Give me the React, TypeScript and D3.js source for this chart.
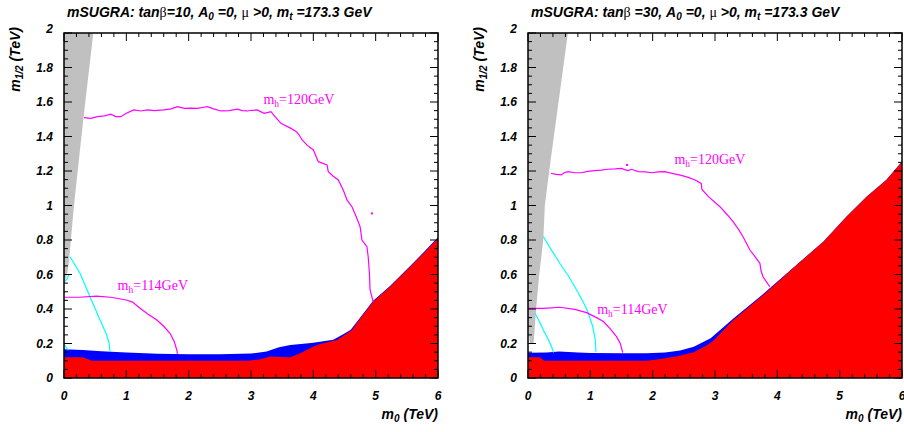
import React from "react";
import * as d3 from "d3";

type P = [number, number];

// ---------- axis ticks ----------
const M0_TICKS = [0, 1, 2, 3, 4, 5, 6];
const M0_LABELS = ["0", "1", "2", "3", "4", "5", "6"];
const M12_TICKS = [0, 0.2, 0.4, 0.6, 0.8, 1, 1.2, 1.4, 1.6, 1.8, 2];
const M12_LABELS = ["0", "0.2", "0.4", "0.6", "0.8", "1", "1.2", "1.4", "1.6", "1.8", "2"];

// ---------- tanβ = 10 ----------
const grey10: P[] = [[0, 2], [0.47, 2], [0.31, 1.5], [0.16, 1.0], [0.11, 0.8], [0.08, 0.68], [0.05, 0.6], [0.0, 0.55]];
const blueTop10: P[] = [[0, 0.166], [0.3, 0.162], [0.6, 0.155], [1.0, 0.148], [1.5, 0.14], [2.0, 0.137], [2.5, 0.137], [3.0, 0.142], [3.25, 0.153], [3.45, 0.178], [3.63, 0.191], [3.8, 0.197], [4.0, 0.205], [4.32, 0.222], [4.48, 0.253], [4.6, 0.28], [4.7, 0.326], [4.96, 0.448], [5.23, 0.533], [5.61, 0.669], [5.82, 0.748], [6.0, 0.816]];
const redTop10: P[] = [[0, 0.12], [0.3, 0.12], [0.45, 0.1], [1.0, 0.1], [2.0, 0.1], [2.5, 0.1], [2.95, 0.1], [3.15, 0.108], [3.31, 0.124], [3.5, 0.122], [3.63, 0.12], [3.79, 0.143], [4.0, 0.182], [4.11, 0.197], [4.38, 0.22], [4.54, 0.259], [4.62, 0.278], [4.7, 0.32], [4.96, 0.442], [5.23, 0.529], [5.61, 0.665], [5.82, 0.742], [6.0, 0.81]];
const cyan10: P[][] = [
  [[0.096, 0.703], [0.257, 0.607], [0.417, 0.471], [0.578, 0.336], [0.685, 0.249], [0.725, 0.2], [0.738, 0.152]],
  [[0.02, 0.56], [0.05, 0.575], [0.08, 0.6]],
  [[0.016, 0.19], [0.04, 0.175], [0.07, 0.162]],
];
const mh114_10: P[] = [[0, 0.468], [0.25, 0.468], [0.52, 0.475], [0.75, 0.468], [1.0, 0.452], [1.1, 0.44], [1.22, 0.404], [1.35, 0.37], [1.49, 0.336], [1.6, 0.3], [1.7, 0.259], [1.77, 0.21], [1.81, 0.162], [1.82, 0.14]];
const mh120_10: P[] = [[0.32, 1.509], [0.43, 1.505], [0.535, 1.515], [0.65, 1.52], [0.75, 1.529], [0.83, 1.515], [0.91, 1.515], [1.0, 1.535], [1.12, 1.554], [1.23, 1.548], [1.34, 1.554], [1.45, 1.55], [1.6, 1.554], [1.72, 1.56], [1.82, 1.573], [1.93, 1.563], [2.03, 1.565], [2.14, 1.563], [2.22, 1.568], [2.3, 1.573], [2.4, 1.56], [2.52, 1.548], [2.65, 1.55], [2.78, 1.559], [2.86, 1.55], [2.94, 1.548], [3.02, 1.552], [3.1, 1.554], [3.21, 1.534], [3.32, 1.544], [3.4, 1.51], [3.48, 1.476], [3.64, 1.447], [3.73, 1.428], [3.77, 1.41], [3.82, 1.38], [3.9, 1.35], [4.0, 1.322], [4.08, 1.254], [4.22, 1.235], [4.24, 1.196], [4.32, 1.17], [4.4, 1.148], [4.48, 1.09], [4.54, 1.032], [4.62, 0.993], [4.7, 0.925], [4.75, 0.877], [4.78, 0.8], [4.86, 0.761], [4.88, 0.703], [4.9, 0.606], [4.91, 0.51], [4.96, 0.442]];
const dots10: P[] = [[4.94, 0.954]];

// ---------- tanβ = 30 ----------
const grey30: P[] = [[0, 2], [0.64, 2], [0.34, 1.2], [0.27, 1.0], [0.245, 0.8], [0.18, 0.6], [0.13, 0.4], [0.09, 0.2], [0.03, 0.2], [0, 0.3]];
const blueTop30: P[] = [[0, 0.147], [0.3, 0.148], [0.5, 0.153], [0.8, 0.148], [1.0, 0.145], [1.5, 0.143], [1.9, 0.144], [2.2, 0.148], [2.44, 0.16], [2.66, 0.181], [2.93, 0.23], [3.29, 0.343], [3.72, 0.471], [3.91, 0.53], [4.31, 0.657], [4.74, 0.791], [5.11, 0.936], [5.43, 1.051], [5.75, 1.149], [6.0, 1.255]];
const redTop30: P[] = [[0, 0.12], [0.19, 0.12], [0.26, 0.1], [1.0, 0.1], [1.9, 0.1], [2.1, 0.108], [2.39, 0.126], [2.66, 0.15], [2.87, 0.19], [2.97, 0.215], [3.29, 0.335], [3.72, 0.465], [3.91, 0.525], [4.31, 0.655], [4.74, 0.79], [5.11, 0.935], [5.43, 1.05], [5.75, 1.148], [6.0, 1.254]];
const cyan30: P[][] = [
  [[0.245, 0.82], [0.38, 0.74], [0.51, 0.665], [0.65, 0.59], [0.78, 0.51], [0.88, 0.445], [0.96, 0.384], [1.04, 0.297], [1.08, 0.22], [1.09, 0.152]],
  [[0.11, 0.375], [0.18, 0.33], [0.245, 0.278], [0.33, 0.22], [0.38, 0.18], [0.41, 0.147]],
];
const mh114_30: P[] = [[0, 0.404], [0.25, 0.404], [0.51, 0.41], [0.75, 0.398], [0.94, 0.379], [1.1, 0.35], [1.21, 0.327], [1.32, 0.285], [1.42, 0.24], [1.48, 0.2], [1.52, 0.147]];
const mh120_30: P[] = [[0.37, 1.187], [0.45, 1.18], [0.535, 1.177], [0.58, 1.19], [0.64, 1.196], [0.75, 1.19], [0.855, 1.19], [0.96, 1.198], [1.07, 1.202], [1.18, 1.205], [1.28, 1.21], [1.4, 1.212], [1.5, 1.215], [1.55, 1.208], [1.61, 1.202], [1.66, 1.21], [1.77, 1.196], [1.88, 1.195], [1.98, 1.19], [2.09, 1.195], [2.19, 1.196], [2.35, 1.183], [2.46, 1.175], [2.57, 1.163], [2.68, 1.148], [2.78, 1.128], [2.79, 1.093], [2.9, 1.05], [3.08, 0.993], [3.2, 0.945], [3.29, 0.906], [3.38, 0.86], [3.45, 0.819], [3.56, 0.742], [3.63, 0.71], [3.72, 0.665], [3.74, 0.62], [3.77, 0.587], [3.82, 0.56], [3.88, 0.529]];
const dots30: P[] = [[1.59, 1.235]];

const SANS = "'Liberation Sans', Arial, Helvetica, sans-serif";
const SERIF = "'Liberation Serif', 'Times New Roman', serif";
const MAG = "#ff00ff";
const CYAN = "#00ffff";

interface PanelProps {
  x0: number;
  tanb: string;
  tanSpace: boolean;
  grey: P[];
  blueTop: P[];
  redTop: P[];
  cyan: P[][];
  mh114: P[];
  mh120: P[];
  dots: P[];
  lab114: P;
  lab120: P;
  id: string;
}

function Panel(p: PanelProps) {
  const X0 = p.x0, X1 = p.x0 + 374, Y0 = 378, Y1 = 33;
  const x = d3.scaleLinear().domain([0, 6]).range([X0, X1]);
  const y = d3.scaleLinear().domain([0, 2]).range([Y0, Y1]);
  const area = d3.area<P>().x(d => x(d[0])).y0(y(0)).y1(d => y(d[1]));
  const line = d3.line<P>().x(d => x(d[0])).y(d => y(d[1]));
  const xMinor = d3.range(0, 6.0001, 0.2);
  const yMinor = d3.range(0, 2.0001, 0.05);
  const isMajorY = (v: number) => Math.abs(v / 0.2 - Math.round(v / 0.2)) < 1e-6;
  const isMajorX = (v: number) => Math.abs(v - Math.round(v)) < 1e-6;

  return (
    <g>
      <defs>
        <clipPath id={"clip" + p.id}>
          <rect x={X0} y={Y1} width={X1 - X0} height={Y0 - Y1} />
        </clipPath>
      </defs>
      <g clipPath={`url(#clip${p.id})`}>
        <path d={area(p.blueTop) || ""} fill="#0000ff" />
        <path d={area(p.redTop) || ""} fill="#ff0000" />
        <path d={(line(p.grey) || "") + "Z"} fill="#c0c0c0" />
        {p.cyan.map((c, i) => (
          <path key={i} d={line(c) || ""} fill="none" stroke={CYAN} strokeWidth={1.2} />
        ))}
        <path d={line(p.mh114) || ""} fill="none" stroke={MAG} strokeWidth={1.2} />
        <path d={line(p.mh120) || ""} fill="none" stroke={MAG} strokeWidth={1.2} />
        {p.dots.map((d, i) => (
          <rect key={i} x={x(d[0]) - 1} y={y(d[1]) - 1} width={2} height={2} fill={MAG} />
        ))}
      </g>
      {/* contour labels */}
      <text x={x(p.lab114[0])} y={y(p.lab114[1])} fontFamily={SERIF} fontSize={14} fill={MAG}>
        m<tspan dy={3} fontSize={9.5}>h</tspan><tspan dy={-3}>=114GeV</tspan>
      </text>
      <text x={x(p.lab120[0])} y={y(p.lab120[1])} fontFamily={SERIF} fontSize={14} fill={MAG}>
        m<tspan dy={3} fontSize={9.5}>h</tspan><tspan dy={-3}>=120GeV</tspan>
      </text>
      {/* ticks */}
      {xMinor.map((v, i) => {
        const len = isMajorX(v) ? 8 : 4;
        return (
          <g key={"xt" + i}>
            <line x1={x(v)} x2={x(v)} y1={Y0} y2={Y0 - len} stroke="#000" strokeWidth={1} />
            <line x1={x(v)} x2={x(v)} y1={Y1} y2={Y1 + len} stroke="#000" strokeWidth={1} />
          </g>
        );
      })}
      {yMinor.map((v, i) => {
        const len = isMajorY(v) ? 8 : 4;
        return (
          <g key={"yt" + i}>
            <line x1={X0} x2={X0 + len} y1={y(v)} y2={y(v)} stroke="#000" strokeWidth={1} />
            <line x1={X1} x2={X1 - len} y1={y(v)} y2={y(v)} stroke="#000" strokeWidth={1} />
          </g>
        );
      })}
      <rect x={X0} y={Y1} width={X1 - X0} height={Y0 - Y1} fill="none" stroke="#000" strokeWidth={1.5} />
      {/* tick labels */}
      {M0_TICKS.map((v, i) => (
        <text key={"xl" + i} x={x(v)} y={400} textAnchor="middle" fontFamily={SANS} fontSize={12} fontWeight="bold" fontStyle="italic">
          {M0_LABELS[i]}
        </text>
      ))}
      {M12_TICKS.map((v, i) => (
        <text key={"yl" + i} x={X0 - 11} y={y(v) + (i === M12_TICKS.length - 1 ? 0 : 4)} textAnchor="end" fontFamily={SANS} fontSize={12} fontWeight="bold" fontStyle="italic">
          {M12_LABELS[i]}
        </text>
      ))}
      {/* axis titles */}
      <text x={X1} y={419} textAnchor="end" fontFamily={SANS} fontSize={14} fontWeight="bold" fontStyle="italic">
        m<tspan dy={3} fontSize={10}>0</tspan><tspan dy={-3}> (TeV)</tspan>
      </text>
      <text transform={`translate(${X0 - 44},27) rotate(-90)`} textAnchor="end" fontFamily={SANS} fontSize={14} fontWeight="bold" fontStyle="italic">
        m<tspan dy={3} fontSize={10}>1/2</tspan><tspan dy={-3}> (TeV)</tspan>
      </text>
      {/* title */}
      <text x={X0 + 3} y={17} fontFamily={SANS} fontSize={14} fontWeight="bold" fontStyle="italic">
        mSUGRA: tan<tspan fontFamily={SERIF} fontWeight="normal" fontStyle="normal">β</tspan>
        {p.tanSpace ? " " : ""}={p.tanb}, A<tspan dy={3} fontSize={10}>0</tspan><tspan dy={-3}> =0, </tspan>
        <tspan fontFamily={SERIF} fontWeight="normal" fontStyle="normal">μ</tspan> &gt;0, m<tspan dy={3} fontSize={10}>t</tspan><tspan dy={-3}> =173.3 GeV</tspan>
      </text>
    </g>
  );
}

export default function App() {
  return (
    <svg width={904} height={432} style={{ position: "absolute", left: 0, top: 0, background: "#fff" }}>
      <rect width={904} height={432} fill="#fff" />
      <Panel id="a" x0={64} tanb="10" tanSpace={false} grey={grey10} blueTop={blueTop10} redTop={redTop10}
        cyan={cyan10} mh114={mh114_10} mh120={mh120_10} dots={dots10} lab114={[0.86, 0.51]} lab120={[3.2, 1.59]} />
      <Panel id="b" x0={528} tanb="30" tanSpace={true} grey={grey30} blueTop={blueTop30} redTop={redTop30}
        cyan={cyan30} mh114={mh114_30} mh120={mh120_30} dots={dots30} lab114={[1.11, 0.37]} lab120={[2.35, 1.24]} />
    </svg>
  );
}
